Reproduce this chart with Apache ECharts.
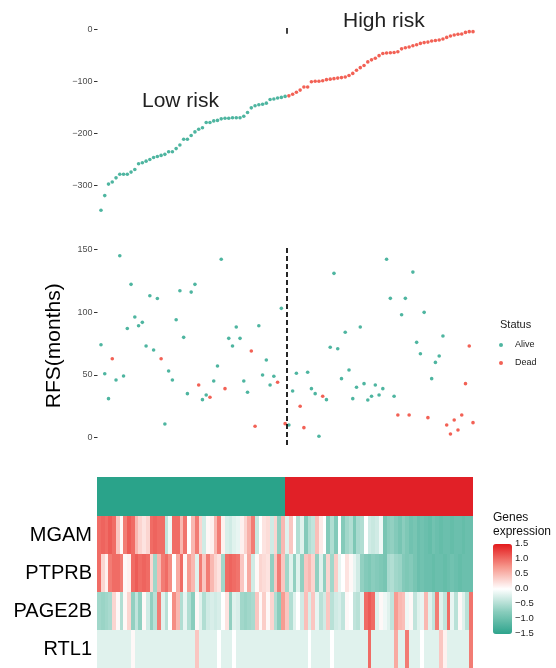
<!DOCTYPE html>
<html>
<head>
<meta charset="utf-8">
<script src="https://cdn.jsdelivr.net/npm/echarts@6/dist/echarts.min.js"></script>
<style>
  html, body { margin: 0; padding: 0; background: #fff; }
  #chart { width: 556px; height: 668px; }
</style>
</head>
<body>
<div id="chart"></div>
<script>
// Risk score of each sample, sorted ascending (samples 1..100)
const riskScore = [
  -347, -319, -297, -293, -285, -278, -278, -278, -274, -269,
  -258, -256, -253, -250, -246, -244, -242, -240, -235, -235,
  -229, -222, -211, -211, -204, -197, -192, -189, -179, -179,
  -176, -175, -172, -171, -171, -170, -170, -170, -167, -160,
  -151, -147, -145, -144, -142, -135, -134, -132, -131, -129,
  -128, -125, -121, -117, -111, -111, -101, -100, -100, -99,
  -97, -96, -95, -94, -93, -92, -89, -85, -79, -74,
  -70, -63, -59, -56, -51, -47, -46, -45.5, -45, -43.5,
  -38, -36, -34.5, -32, -30, -27.5, -26, -25, -23, -22,
  -21, -19, -16, -13.5, -11.5, -10, -9.5, -6.5, -5, -5
];
// Number of samples in the low-risk group (the rest are high risk)
const lowRiskCount = 50;

// Recurrence-free survival in months, same sample order
const rfsMonths = [
  74, 50.8, 30.9, 62.8, 45.8, 145.2, 49, 87, 122.3, 96.2,
  89.2, 91.9, 73, 113.2, 69.8, 111, 62.8, 10.6, 53, 45.8,
  94, 117.2, 79.9, 34.9, 116.1, 122.3, 41.8, 30.1, 33.8, 32,
  45, 57, 142.3, 38.9, 79.1, 73, 88.2, 79.1, 45, 36,
  69, 8.8, 89.2, 49.8, 61.8, 41.8, 48.8, 44, 103.1, 10.9,
  9.8, 37, 51.2, 24.8, 7.7, 52, 38.9, 34.9, 0.8, 32.8,
  30.1, 72, 131.1, 70.8, 46.9, 84, 53.8, 30.9, 40, 88.2,
  42.9, 29.8, 32.8, 41.8, 33.8, 38.9, 142.3, 111.1, 32.8, 17.8,
  98, 111.1, 17.8, 132.1, 75.9, 66.8, 99.9, 15.7, 46.9, 59.9,
  65, 81, 9.8, 2.6, 13.8, 5.8, 17.8, 42.9, 73, 11.7
];
const rfsStatus = [
  'Alive','Alive','Alive','Dead','Alive','Alive','Alive','Alive','Alive','Alive',
  'Alive','Alive','Alive','Alive','Alive','Alive','Dead','Alive','Alive','Alive',
  'Alive','Alive','Alive','Alive','Alive','Alive','Dead','Alive','Alive','Dead',
  'Alive','Alive','Alive','Dead','Alive','Alive','Alive','Alive','Alive','Alive',
  'Dead','Dead','Alive','Alive','Alive','Alive','Alive','Dead','Alive','Dead',
  'Alive','Alive','Alive','Dead','Dead','Alive','Alive','Alive','Alive','Dead',
  'Alive','Alive','Alive','Alive','Alive','Alive','Alive','Alive','Alive','Alive',
  'Alive','Alive','Alive','Alive','Alive','Alive','Alive','Alive','Alive','Dead',
  'Alive','Alive','Dead','Alive','Alive','Alive','Alive','Dead','Alive','Alive',
  'Alive','Alive','Dead','Dead','Dead','Dead','Dead','Dead','Dead','Dead'
];

// Scaled gene expression, one value per sample
const geneNames = ['MGAM', 'PTPRB', 'PAGE2B', 'RTL1'];
const exprMGAM = [
  1.0, 1.05, 1.0, 1.1, 1.0, 0.4, 0.05, 0.9, 1.1, 1.0,
  0.5, 0.3, 0.2, 0.3, 1.0, 1.05, 1.0, 1.0, -0.4, -0.1,
  1.0, 1.0, 0.5, 0.95, 0.0, 0.5, 0.9, 0.3, -0.3, 0.05,
  0.1, 0.5, 0.9, 0.1, -0.25, -0.3, -0.2, -0.15, 0.1, 0.3,
  0.55, 0.9, -0.35, 0.0, 0.2, 0.25, -0.3, 0.3, -0.7, 0.5,
  -0.2, 0.4, 0.0, -0.5, -0.2, -0.8, -0.5, -0.4, 0.45, 0.15,
  0.0, -0.8, -0.5, -0.8, 0.0, -0.8, -0.6, -0.5, -0.85, -0.55,
  -0.5, 0.0, -0.3, -0.35, -0.3, -0.1, -0.9, -0.75, -0.7, -0.8,
  -0.9, -0.75, -0.85, -0.95, -0.9, -1.0, -0.95, -1.0, -1.05, -0.95,
  -1.0, -1.05, -1.0, -1.0, -1.05, -1.0, -1.0, -1.05, -1.0, -1.0
];
const exprPTPRB = [
  1.0, 0.3, 0.1, 0.9, 1.0, 1.0, 0.9, 0.05, 0.1, 1.0,
  1.1, 1.0, 1.05, 1.0, 0.3, -0.6, 0.5, 0.9, 1.0, 0.8,
  0.0, 0.6, 1.0, 0.05, 0.7, 0.5, -0.2, 0.9, 0.4, 0.9,
  0.5, 0.3, 0.2, -0.6, 1.0, 1.05, 1.0, 0.95, 0.4, 0.05,
  0.6, -0.3, 0.05, 0.3, 0.25, 0.2, -0.7, 0.4, 0.9, 0.4,
  -0.6, -0.2, -0.7, -0.2, -0.7, 0.4, 0.5, 0.3, -0.7, -0.2,
  -0.7, 0.3, -0.6, 0.35, -0.15, 0.0, 0.2, 0.05, -0.15, -0.3,
  -0.7, -0.8, -0.85, -0.75, -0.8, -0.85, -0.9, -0.55, -0.5, -0.6,
  -0.65, -0.8, -0.85, -0.8, -0.9, -1.0, -0.95, -1.0, -1.0, -1.05,
  -1.0, -1.0, -1.05, -1.0, -0.95, -1.0, -1.05, -1.0, -1.0, -1.0
];
const exprPAGE2B = [
  -0.6, -0.65, -0.6, -0.55, 0.3, 0.05, -0.5, 0.05, 0.3, -0.7,
  -0.4, -0.7, 0.05, -0.3, -0.7, -0.45, 0.9, -0.2, -0.45, 0.0,
  0.8, 0.5, -0.5, -0.15, -0.5, -0.75, 0.05, -0.2, -0.5, -0.3,
  -0.25, -0.3, -0.25, 0.0, 0.2, -0.7, -0.2, -0.25, -0.6, -0.65,
  -0.6, -0.55, 0.4, 0.05, 0.35, 0.05, 0.3, -0.5, -0.75, 0.7,
  0.4, -0.5, -0.2, 0.0, -0.3, 0.45, -0.25, 0.4, -0.15, -0.45,
  -0.3, 0.4, -0.45, -0.3, -0.25, -0.4, 0.05, 0.0, -0.4, -0.45,
  -0.2, 1.0, 1.1, 1.0, -0.2, 0.05, -0.1, -0.2, -0.4, 0.7,
  0.5, 0.45, -0.1, 0.05, -0.4, -0.2, -0.15, 0.5, -0.2, -0.4,
  0.9, -0.2, -0.4, 1.0, -0.15, -0.45, 0.05, -0.2, -0.45, 0.95
];
const exprRTL1 = [
  -0.2, -0.2, -0.2, -0.2, -0.2, -0.2, -0.2, -0.2, -0.2, 0.05,
  -0.2, -0.2, -0.2, -0.2, -0.2, -0.2, -0.2, -0.2, -0.2, -0.2,
  -0.2, -0.2, -0.2, -0.2, -0.2, -0.2, 0.4, -0.2, -0.2, -0.2,
  -0.2, -0.2, 0.0, -0.2, -0.2, -0.2, 0.0, -0.2, -0.2, -0.2,
  -0.2, -0.2, -0.2, -0.2, -0.2, -0.2, -0.2, -0.2, -0.2, -0.2,
  -0.2, -0.2, -0.2, -0.2, -0.2, -0.2, 0.0, -0.2, -0.2, -0.2,
  -0.2, -0.2, 0.0, -0.2, -0.2, -0.2, -0.2, -0.2, -0.2, -0.2,
  -0.2, -0.2, 1.0, -0.2, -0.2, -0.2, -0.2, -0.2, -0.2, 0.6,
  -0.2, -0.2, 0.9, -0.2, -0.2, -0.2, 0.0, -0.2, -0.2, -0.2,
  -0.2, 0.4, 0.1, -0.2, -0.2, -0.2, -0.2, -0.2, -0.2, 0.9
];
const exprRows = [exprMGAM, exprPTPRB, exprPAGE2B, exprRTL1];

// Axis tick labels
const riskTicks = [-300, -200, -100, 0];
const rfsTicks = [0, 50, 100, 150];
const exprLegendTicks = [1.5, 1.0, 0.5, 0.0, -0.5, -1.0, -1.5];

// ---- styling ----
const GREEN = '#22A288';
const RED = '#EF3A2B';
const ANNOT_GREEN = '#2AA38A';
const ANNOT_RED = '#E12027';
const FONT = 'Liberation Sans, Arial, Helvetica, sans-serif';
const minus = v => String(v).replace('-', '\u2212');

const sampleIds = riskScore.map((_, i) => i + 1);

const lowRiskPts = [], highRiskPts = [], alivePts = [], deadPts = [];
riskScore.forEach((v, i) => {
  (i < lowRiskCount ? lowRiskPts : highRiskPts).push([i + 1, v]);
});
rfsMonths.forEach((v, i) => {
  (rfsStatus[i] === 'Alive' ? alivePts : deadPts).push([i + 1, v]);
});
const annotData = sampleIds.map((id, i) => [i, 0, i < lowRiskCount ? 0 : 1]);
const heatData = [];
exprRows.forEach((row, r) => row.forEach((v, i) => heatData.push([i, r, v])));

// Heatmap cells snapped to whole pixels so neighbouring tiles meet without seams
function renderCell(params, api) {
  const c = api.coord([api.value(0), api.value(1)]);
  const s = api.size([1, 1]);
  const x0 = Math.round(c[0] - s[0] / 2), x1 = Math.round(c[0] + s[0] / 2);
  const y0 = Math.round(c[1] - s[1] / 2), y1 = Math.round(c[1] + s[1] / 2);
  return {
    type: 'rect',
    shape: { x: x0, y: y0, width: x1 - x0, height: y1 - y0 },
    style: { fill: api.visual('color') }
  };
}

const scatterY = (gridIndex, min, max, ticks, extra) => Object.assign({
  type: 'value', gridIndex, min, max,
  axisLine: { show: false },
  splitLine: { show: false },
  axisTick: { show: true, length: 3.5, customValues: ticks, lineStyle: { color: '#333', width: 1 } },
  axisLabel: { customValues: ticks, fontSize: 9, color: '#4D4D4D', margin: 5, fontFamily: FONT, formatter: minus }
}, extra || {});

const chart = echarts.init(document.getElementById('chart'), null, { renderer: 'canvas' });

const legendTickText = exprLegendTicks.map(v => ({
  type: 'text',
  left: 515,
  top: 544 + (1.5 - v) / 3 * 90 - 5.5,
  style: { text: minus(v.toFixed(1)), fill: '#222', font: '9.5px ' + FONT }
}));

chart.setOption({
  animation: false,
  textStyle: { fontFamily: FONT },
  grid: [
    { left: 97.5, top: 23.8, width: 379, height: 193.2 },
    { left: 97.5, top: 246.5, width: 379, height: 198.5 },
    { left: 97, top: 477, width: 376, height: 39 },
    { left: 97, top: 516, width: 376, height: 152 }
  ],
  xAxis: [
    { type: 'value', gridIndex: 0, min: 0.07, max: 100.93, show: false },
    { type: 'value', gridIndex: 1, min: 0.07, max: 100.93, show: false },
    { type: 'category', gridIndex: 2, data: sampleIds, show: false },
    { type: 'category', gridIndex: 3, data: sampleIds, show: false }
  ],
  yAxis: [
    scatterY(0, -360, 10, riskTicks),
    scatterY(1, -6.16, 152.55, rfsTicks, {
      name: 'RFS(months)', nameLocation: 'middle', nameGap: 33,
      nameTextStyle: { fontSize: 21, color: '#000', fontFamily: FONT }
    }),
    { type: 'category', gridIndex: 2, data: ['risk'], show: false },
    {
      type: 'category', gridIndex: 3, data: geneNames, inverse: true,
      axisLine: { show: false }, axisTick: { show: false }, splitLine: { show: false },
      axisLabel: { fontSize: 20, color: '#000', margin: 5, fontFamily: FONT }
    }
  ],
  legend: {
    data: ['Alive', 'Dead'],
    orient: 'vertical',
    left: 499, top: 339,
    padding: 0,
    itemWidth: 18, itemHeight: 4, itemGap: 6,
    icon: 'circle',
    textStyle: { fontSize: 9, color: '#222', lineHeight: 12, fontFamily: FONT }
  },
  visualMap: [
    {
      type: 'continuous', min: -1.5, max: 1.5, seriesIndex: 5, dimension: 2,
      left: 493, top: 544, itemWidth: 19, itemHeight: 90, padding: 0,
      calculable: false, hoverLink: false,
      inRange: { color: ['#2EA48C', '#8ACDBD', '#FFFFFF', '#F6958A', '#E31A1C'] }
    },
    {
      type: 'piecewise', show: false, seriesIndex: 4, dimension: 2,
      pieces: [{ value: 0, color: ANNOT_GREEN }, { value: 1, color: ANNOT_RED }]
    }
  ],
  graphic: [
    { type: 'text', left: 142, top: 91,
      style: { text: 'Low risk', fill: '#222', font: '21px ' + FONT } },
    { type: 'text', left: 343, top: 11,
      style: { text: 'High risk', fill: '#222', font: '21px ' + FONT } },
    { type: 'text', left: 500, top: 319.5,
      style: { text: 'Status', fill: '#222', font: '11px ' + FONT } },
    { type: 'text', left: 493, top: 511,
      style: { text: 'Genes\nexpression', fill: '#111', font: '12px ' + FONT, lineHeight: 14 } }
  ].concat(legendTickText),
  series: [
    {
      name: 'Low risk', type: 'scatter', xAxisIndex: 0, yAxisIndex: 0,
      data: lowRiskPts, symbolSize: 3.6, itemStyle: { color: GREEN },
      markLine: {
        silent: true, symbol: 'none', label: { show: false },
        lineStyle: { color: '#000', width: 1.5, type: 'solid' },
        data: [[{ coord: [lowRiskCount + 0.5, 2] }, { coord: [lowRiskCount + 0.5, -9] }]]
      }
    },
    {
      name: 'High risk', type: 'scatter', xAxisIndex: 0, yAxisIndex: 0,
      data: highRiskPts, symbolSize: 3.6, itemStyle: { color: RED }
    },
    {
      name: 'Alive', type: 'scatter', xAxisIndex: 1, yAxisIndex: 1,
      data: alivePts, symbolSize: 3.6, itemStyle: { color: GREEN },
      markLine: {
        silent: true, symbol: 'none', label: { show: false },
        lineStyle: { color: '#000', width: 1.7, type: [5, 3] },
        data: [{ xAxis: lowRiskCount + 0.5 }]
      }
    },
    {
      name: 'Dead', type: 'scatter', xAxisIndex: 1, yAxisIndex: 1,
      data: deadPts, symbolSize: 3.6, itemStyle: { color: RED }
    },
    {
      name: 'Risk group', type: 'custom', xAxisIndex: 2, yAxisIndex: 2,
      data: annotData, encode: { x: 0, y: 1 }, renderItem: renderCell, silent: true
    },
    {
      name: 'Genes expression', type: 'custom', xAxisIndex: 3, yAxisIndex: 3,
      data: heatData, encode: { x: 0, y: 1 }, renderItem: renderCell, silent: true
    }
  ]
});
</script>
</body>
</html>
